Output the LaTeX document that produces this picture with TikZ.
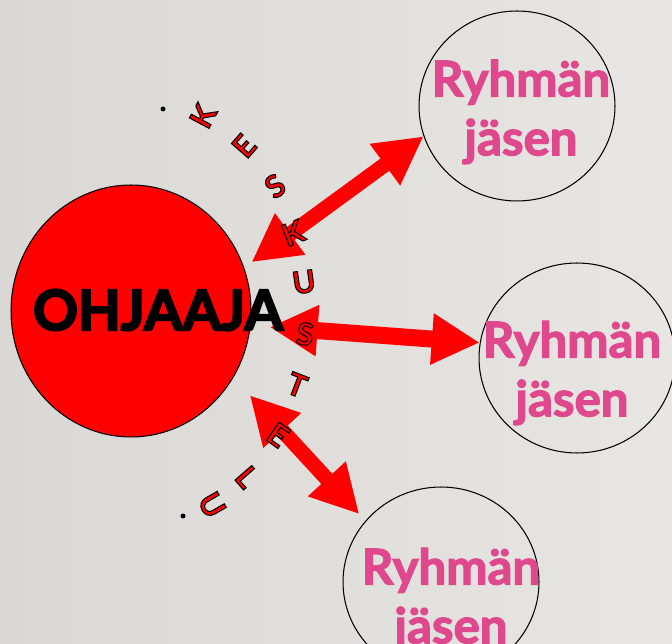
\documentclass[tikz,border=0pt]{standalone}
\usepackage{fontspec}
\setmainfont{Lato}
\usetikzlibrary{shapes.geometric,arrows.meta}

\definecolor{taustavasen}{RGB}{218,216,212}
\definecolor{taustaoikea}{RGB}{232,230,226}
\definecolor{jasenpinkki}{RGB}{224,72,142}

\newcommand{\reunateksti}[1]{\textcolor{red}{\special{pdf:literal direct 0 0 0 RG 0.6 w 2 Tr}#1\special{pdf:literal direct 0 Tr}}}
\newcommand{\lihava}[2]{\special{pdf:literal direct #1 w 2 Tr}#2\special{pdf:literal direct 0 Tr}}

\tikzset{
  pallo/.style={ellipse,draw=black,line width=0.6pt,inner sep=0pt},
  jasenteksti/.style={text=jasenpinkki,font=\fontsize{28}{33.5}\selectfont\bfseries,align=center,inner sep=0pt},
  nuoli/.style={draw=red,line width=0.3cm,{Triangle[length=0.96cm,width=0.96cm]}-{Triangle[length=0.96cm,width=0.96cm]}},
  kirjain/.style={inner sep=0pt,font=\fontsize{17.5}{20}\selectfont\bfseries},
  piste/.style={circle,fill=black,inner sep=0pt,minimum size=0.1cm}
}

\begin{document}
\begin{tikzpicture}[x=0.02cm,y=-0.02cm]

\shade [left color=taustavasen,right color=taustaoikea] (0,0) rectangle (672,644);
\useasboundingbox (0,0) rectangle (672,644);

\node [pallo,fill=red,minimum width=4.8cm,minimum height=5.04cm] (ohjaaja) at (131,311) {};
\node [pallo,minimum width=3.92cm,minimum height=3.8cm] (jasen1) at (517,106) {};
\node [pallo,minimum width=3.92cm,minimum height=3.8cm] (jasen2) at (577,358) {};
\node [pallo,minimum width=3.92cm,minimum height=3.8cm] (jasen3) at (441,582) {};

\draw [nuoli,shorten <=0.18cm] (ohjaaja.21) -- (jasen1.198);
\draw [nuoli,line width=0.34cm,shorten <=0.38cm] (ohjaaja.-7) -- (jasen2.171);
\draw [nuoli,shorten <=0.48cm,shorten >=0.18cm] (ohjaaja.-33) -- (jasen3.141);

\node [font=\fontsize{31.6}{36}\selectfont\bfseries,inner sep=0pt] (ohjaajateksti) at (158,310) {\lihava{1.2}{OHJAAJA}};

\node [jasenteksti] (teksti1) at (521,112) {\lihava{0.7}{Ryhmän\\jäsen}};
\node [jasenteksti] (teksti2) at (572,373) {\lihava{0.7}{Ryhmän\\jäsen}};
\node [jasenteksti] (teksti3) at (451,600) {\lihava{0.7}{Ryhmän\\jäsen}};

\node [piste] (piste1) at (163,109) {};
\node [piste] (piste2) at (183,516) {};

\foreach \x/\y/\kulma/\merkki [count=\i] in
  {203/116/62/K,244/146/49/E,275/186/35/S,293/233/22/K,304/282/8/U,
   305/334/-7/S,297/385/-21/T,278/435/-35/E,247/477/-49/L,212/505/-60/U}
  \node [kirjain,rotate=\kulma] (kirjain\i) at (\x,\y) {\reunateksti{\merkki}};

\end{tikzpicture}
\end{document}
